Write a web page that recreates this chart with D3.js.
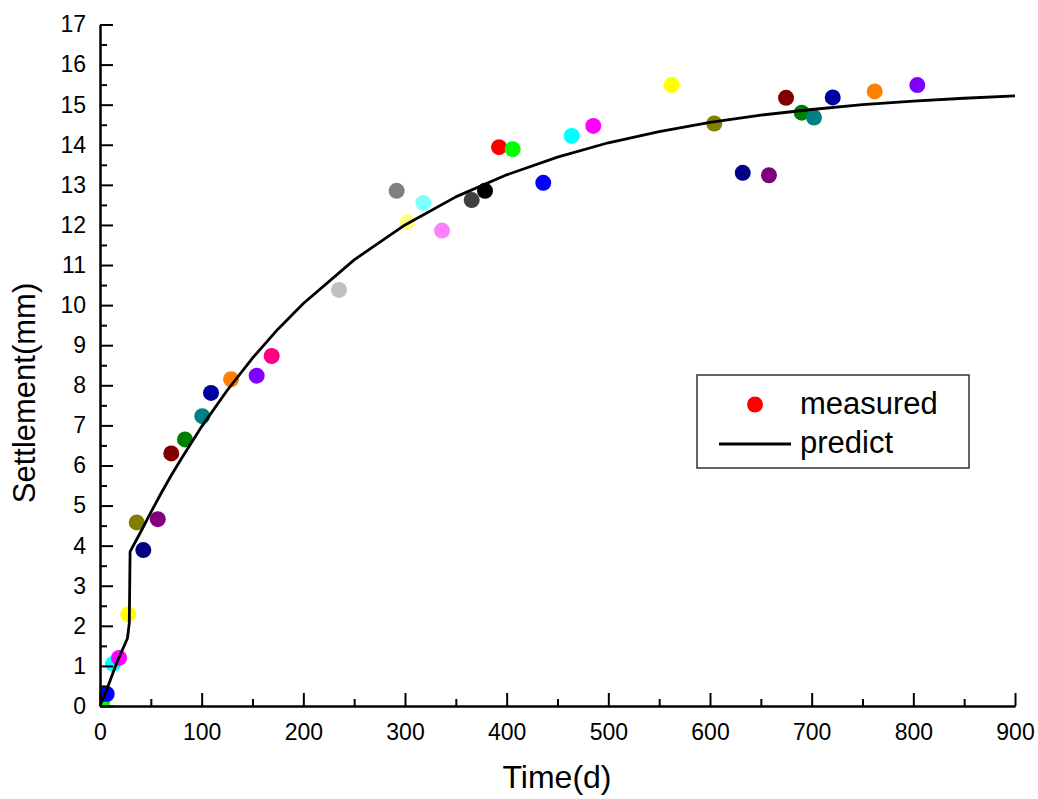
<!DOCTYPE html>
<html>
<head>
<meta charset="utf-8">
<script src="https://cdn.jsdelivr.net/npm/d3@7"></script>
<style>
  body { margin: 0; background: #fff; }
  svg { font-family: Arial, "Liberation Sans", sans-serif; }
  .axis path, .axis line { stroke: #000; stroke-width: 2; }
  .axis text { font-size: 23px; fill: #000; }
</style>
</head>
<body>
<div class="chart"></div>
<script>
// Measured points (day, mm), each drawn in the Origin colour cycle
const measuredDays = [0, 2, 6.6, 12.8, 18.7, 27.8, 36.1, 42.6, 56.8, 70.1, 83.6, 100.6, 109.2, 128.9, 154.1, 168.9,
  235.1, 291.8, 302.7, 318, 336.4, 365.6, 378.7, 392.5, 405.9, 436, 464, 485.2, 562.3, 604.2, 632.2, 658,
  674.8, 690.2, 702.3, 720.7, 762, 803.9];
const measuredMm = [0, 0.08, 0.3, 1.05, 1.2, 2.29, 4.58, 3.89, 4.66, 6.3, 6.65, 7.23, 7.81, 8.15, 8.24, 8.73,
  10.38, 12.85, 12.07, 12.55, 11.86, 12.62, 12.85, 13.94, 13.89, 13.05, 14.22, 14.47, 15.49, 14.53, 13.3, 13.24,
  15.17, 14.8, 14.68, 15.18, 15.33, 15.49];
const pointColors = ['#ff0000', '#00ff00', '#0000ff', '#00ffff', '#ff00ff', '#ffff00', '#808000', '#000080',
  '#800080', '#800000', '#008000', '#008080', '#0000a0', '#ff8000', '#8000ff', '#ff0080',
  '#c0c0c0', '#808080', '#ffff80', '#80ffff', '#ff80ff', '#404040', '#000000', '#ff0000', '#00ff00',
  '#0000ff', '#00ffff', '#ff00ff', '#ffff00', '#808000', '#000080', '#800080', '#800000', '#008000',
  '#008080', '#0000a0', '#ff8000', '#8000ff'];

// Predicted curve
const predictDays = [0, 8, 16, 27, 28.8, 29.6, 40, 50, 60, 70, 80, 100, 125, 150, 175, 200, 250, 300, 350, 400,
  450, 500, 550, 600, 650, 700, 750, 800, 850, 900];
const predictMm = [0, 0.5, 1.05, 1.69, 2.06, 3.85, 4.34, 4.83, 5.3, 5.75, 6.17, 6.97, 7.87, 8.68, 9.4, 10.04,
  11.13, 12.0, 12.7, 13.25, 13.69, 14.05, 14.33, 14.56, 14.74, 14.88, 15.0, 15.09, 15.16, 15.22];

const xMajor = [0, 100, 200, 300, 400, 500, 600, 700, 800, 900];
const xMinor = [50, 150, 250, 350, 450, 550, 650, 750, 850];
const yMajor = d3.range(0, 18);
const yMinor = d3.range(0.5, 17, 1);

const width = 1038;
const height = 799;
const margin = { top: 24.5, right: 23, bottom: 93, left: 100 };
const innerW = width - margin.left - margin.right;
const innerH = height - margin.top - margin.bottom;

const svg = d3.select('.chart')
  .append('svg')
  .attr('width', width)
  .attr('height', height);

const g = svg.append('g').attr('transform', `translate(${margin.left},${margin.top})`);

const x = d3.scaleLinear().domain([0, 900]).range([0, innerW]);
const y = d3.scaleLinear().domain([0, 17]).range([innerH, 0]);

g.append('clipPath').attr('id', 'plot')
  .append('rect').attr('width', innerW).attr('height', innerH);

// Scatter points
g.append('g').attr('clip-path', 'url(#plot)')
  .selectAll('circle')
  .data(measuredDays)
  .enter()
  .append('circle')
  .attr('cx', d => x(d))
  .attr('cy', (d, i) => y(measuredMm[i]))
  .attr('r', 8)
  .attr('fill', (d, i) => pointColors[i]);

// Prediction line
const line = d3.line()
  .x(d => x(d))
  .y((d, i) => y(predictMm[i]));

g.append('path')
  .datum(predictDays)
  .attr('d', line)
  .attr('fill', 'none')
  .attr('stroke', '#000')
  .attr('stroke-width', 2.8)
  .attr('stroke-linejoin', 'round');

// Axes, ticks pointing inward
g.append('g').attr('class', 'axis')
  .attr('transform', `translate(0,${innerH})`)
  .call(d3.axisBottom(x).tickValues(xMinor).tickSize(-7).tickSizeOuter(0).tickFormat(''));
g.append('g').attr('class', 'axis')
  .attr('transform', `translate(0,${innerH})`)
  .call(d3.axisBottom(x).tickValues(xMajor).tickSize(-13).tickSizeOuter(0).tickPadding(18).tickFormat(d3.format('d')));

g.append('g').attr('class', 'axis')
  .call(d3.axisLeft(y).tickValues(yMinor).tickSize(-7).tickSizeOuter(0).tickFormat(''));
g.append('g').attr('class', 'axis')
  .call(d3.axisLeft(y).tickValues(yMajor).tickSize(-13).tickSizeOuter(0).tickPadding(14).tickFormat(d3.format('d')));

// Axis titles
svg.append('text')
  .attr('x', 557)
  .attr('y', 788)
  .attr('text-anchor', 'middle')
  .style('font-size', '32px')
  .text('Time(d)');

svg.append('text')
  .attr('transform', 'translate(35,393) rotate(-90)')
  .attr('text-anchor', 'middle')
  .style('font-size', '31px')
  .text('Settlement(mm)');

// Legend
const legend = svg.append('g').attr('transform', 'translate(697,375)');
legend.append('rect')
  .attr('width', 272)
  .attr('height', 93)
  .attr('fill', '#fff')
  .attr('stroke', '#333')
  .attr('stroke-width', 1.5);
legend.append('circle')
  .attr('cx', 58).attr('cy', 29.5).attr('r', 8)
  .attr('fill', '#ff0000');
legend.append('text')
  .attr('x', 103).attr('y', 39)
  .style('font-size', '31px')
  .text('measured');
legend.append('line')
  .attr('x1', 22).attr('x2', 94)
  .attr('y1', 69).attr('y2', 69)
  .attr('stroke', '#000').attr('stroke-width', 2.8);
legend.append('text')
  .attr('x', 103).attr('y', 78)
  .style('font-size', '31px')
  .text('predict');
</script>
</body>
</html>
